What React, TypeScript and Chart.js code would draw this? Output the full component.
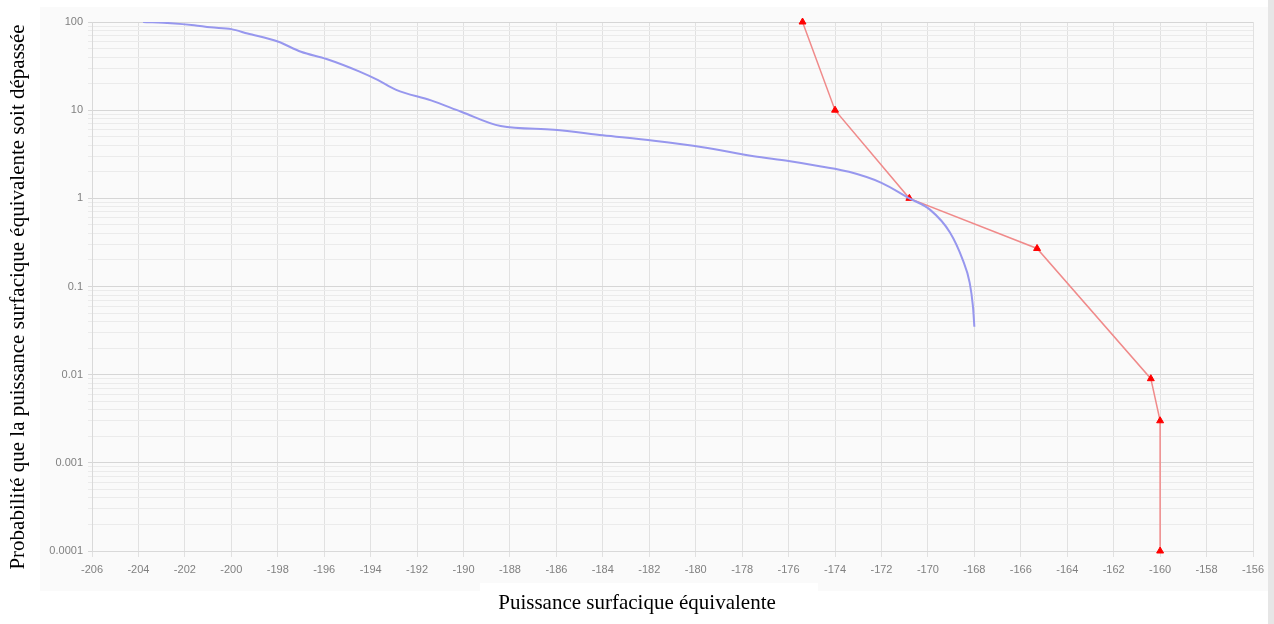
import React, { useEffect, useRef } from "react";
import { Chart, registerables } from "chart.js";

Chart.register(...registerables);

// Blue curve (simulated distribution)
const blueX = [
  -203.8, -202.6, -201.6, -200.9, -200.0, -199.3, -198.0, -197.0, -195.9, -194.5,
  -193.7, -192.9, -191.4, -190.1, -188.4, -186.1, -184.0, -181.8, -179.7, -177.5,
  -176.0, -174.6, -173.4, -172.0, -170.8, -169.9, -169.05, -168.5, -168.2, -168.06, -168.0,
];
const blueY = [
  100, 97, 92, 87, 83, 74, 60, 46, 38, 27.5,
  22, 17, 12.9, 9.6, 6.6, 6.0, 5.2, 4.5, 3.8, 3.0,
  2.65, 2.3, 2.0, 1.5, 1.0, 0.74, 0.41, 0.2, 0.11, 0.059, 0.035,
];

// Red curve (limit mask)
const redX = [-175.4, -174.0, -170.8, -165.3, -160.4, -160.0, -160.0];
const redY = [100, 10, 1, 0.27, 0.009, 0.003, 0.0001];

// Axes
const xMin = -206;
const xMax = -156;
const xStep = 2;
const yDecades = [0.0001, 0.001, 0.01, 0.1, 1, 10, 100];
const yDecadeLabels = ["0.0001", "0.001", "0.01", "0.1", "1", "10", "100"];

const xTitle = "Puissance surfacique équivalente";
const yTitle = "Probabilité que la puissance surfacique équivalente soit dépassée";

function decadeIndex(v: number): number {
  for (let i = 0; i < yDecades.length; i++) {
    if (Math.abs(Math.log10(v) - Math.log10(yDecades[i])) < 1e-9) return i;
  }
  return -1;
}

const decorPlugin = {
  id: "decor",
  beforeDraw(chart: any) {
    const { ctx, width, height } = chart;
    ctx.save();
    ctx.fillStyle = "#ffffff";
    ctx.fillRect(0, 0, width, height);
    ctx.fillStyle = "#fafafa";
    ctx.fillRect(40, 7, 1228, 584);
    ctx.fillStyle = "#ffffff";
    ctx.fillRect(480, 583, 338, 39);
    ctx.fillStyle = "#e6e6e6";
    ctx.fillRect(1268, 0, 6, height);
    ctx.restore();
  },
  afterDraw(chart: any) {
    const { ctx } = chart;
    ctx.save();
    ctx.fillStyle = "#000000";
    ctx.font = '21px "Liberation Serif", "Times New Roman", serif';
    ctx.textAlign = "center";
    ctx.textBaseline = "middle";
    ctx.fillText(xTitle, 637, 603);
    ctx.translate(18, 297);
    ctx.rotate(-Math.PI / 2);
    ctx.fillText(yTitle, 0, 0);
    ctx.restore();
  },
};

export default function App() {
  const canvasRef = useRef<HTMLCanvasElement | null>(null);

  useEffect(() => {
    if (!canvasRef.current) return;
    const tickFont = { family: '"Liberation Sans", Arial, sans-serif', size: 11 };
    const chart = new Chart(canvasRef.current, {
      type: "line",
      data: {
        datasets: [
          {
            label: "blue",
            data: blueX.map((x, i) => ({ x, y: blueY[i] })),
            borderColor: "#9797ee",
            borderWidth: 2,
            pointRadius: 0,
            cubicInterpolationMode: "monotone",
            fill: false,
          },
          {
            label: "red",
            data: redX.map((x, i) => ({ x, y: redY[i] })),
            borderColor: "#f08a8a",
            borderWidth: 1.5,
            pointStyle: "triangle",
            pointRadius: 4,
            pointBackgroundColor: "#ff0000",
            pointBorderColor: "#ff0000",
            pointBorderWidth: 1,
            fill: false,
            clip: false,
          } as any,
        ],
      },
      options: {
        animation: false,
        responsive: false,
        maintainAspectRatio: false,
        layout: { padding: { top: 22, right: 21, bottom: 0, left: 0 } },
        plugins: {
          legend: { display: false },
          tooltip: { enabled: false },
        },
        scales: {
          x: {
            type: "linear",
            min: xMin,
            max: xMax,
            afterFit: (s: any) => {
              s.height = 73;
            },
            ticks: {
              stepSize: xStep,
              autoSkip: false,
              maxRotation: 0,
              padding: 6,
              color: "#808080",
              font: tickFont,
            },
            grid: {
              color: "#e1e1e1",
              lineWidth: 1,
              tickLength: 6,
            },
            border: { color: "#d9d9d9" },
          },
          y: {
            type: "logarithmic",
            min: yDecades[0],
            max: yDecades[yDecades.length - 1],
            afterFit: (s: any) => {
              s.width = 92;
            },
            afterBuildTicks: (s: any) => {
              const t: any[] = [];
              for (let i = 0; i < yDecades.length - 1; i++) {
                for (let k = 1; k <= 9; k++) {
                  t.push({ value: k * yDecades[i], major: k === 1 });
                }
              }
              t.push({ value: yDecades[yDecades.length - 1], major: true });
              s.ticks = t;
            },
            ticks: {
              autoSkip: false,
              padding: 5,
              color: "#808080",
              font: tickFont,
              callback: (v: any) => {
                const i = decadeIndex(Number(v));
                return i >= 0 ? yDecadeLabels[i] : "";
              },
            },
            grid: {
              color: (c: any) =>
                c.tick && decadeIndex(c.tick.value) >= 0 ? "#d6d6d6" : "#ebebeb",
              lineWidth: 1,
              tickLength: 4,
            },
            border: { color: "#d9d9d9" },
          },
        },
      } as any,
      plugins: [decorPlugin],
    });
    return () => chart.destroy();
  }, []);

  return (
    <div style={{ position: "absolute", left: 0, top: 0, width: 1274, height: 624 }}>
      <canvas ref={canvasRef} width={1274} height={624} />
    </div>
  );
}
